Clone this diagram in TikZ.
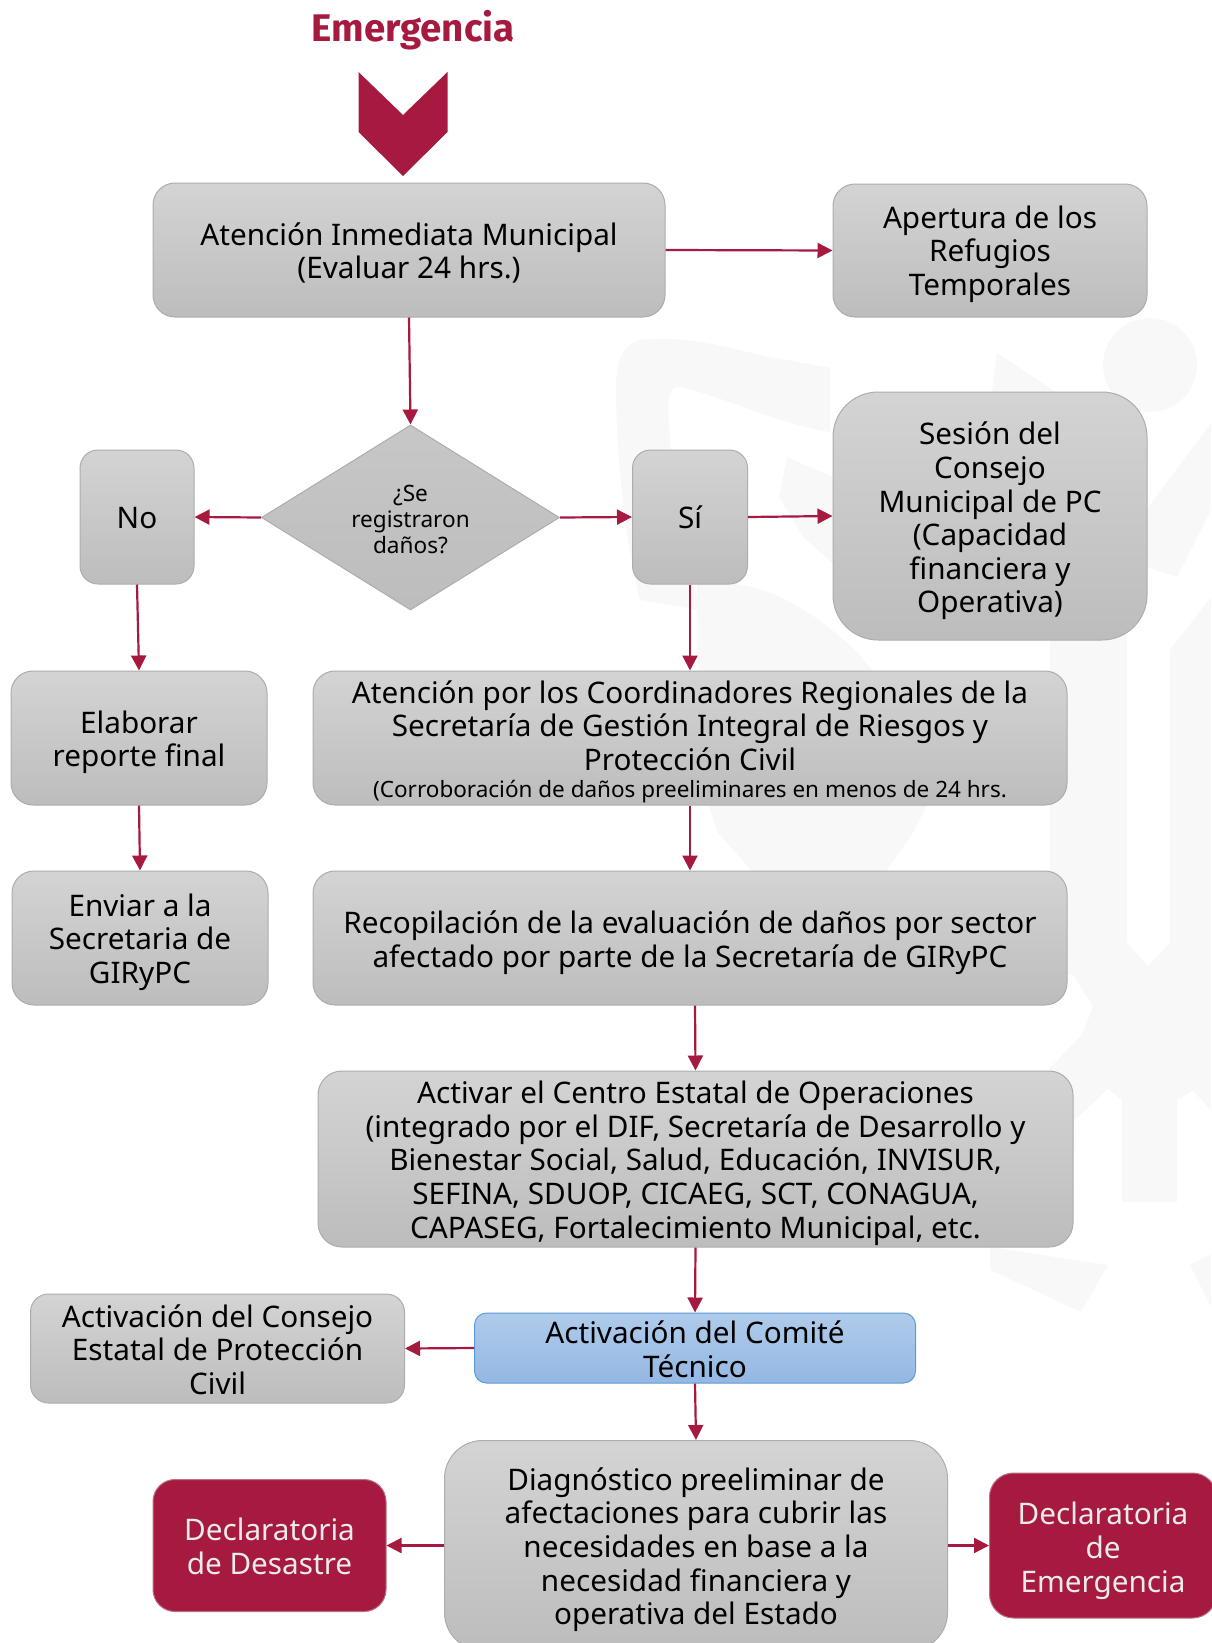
\documentclass[tikz,border=0pt]{standalone}
\usepackage{fontspec}
\setmainfont{Noto Sans}
\newfontfamily\titlef{Fira Sans Bold}
\newcommand{\dn}[1]{\rule{0pt}{\dimexpr 23pt+#1pt+#1pt\relax}}
\usetikzlibrary{shapes.geometric,arrows.meta}
\definecolor{guinda}{HTML}{A61A3F}
\definecolor{wm}{HTML}{F8F8F8}
\definecolor{bltop}{HTML}{AFCBEA}
\definecolor{blbot}{HTML}{94B8E3}
\definecolor{bledge}{HTML}{5B9BD5}
\tikzset{
  gbox/.style={rectangle,draw=black!32,line width=1pt,top color=black!17,bottom color=black!26,align=center,inner sep=0pt,text=black,font=\fontsize{29.7}{33.6}\selectfont},
  rbox/.style={rectangle,draw=guinda!80!black!60,line width=1pt,fill=guinda,align=center,inner sep=0pt,text=white!92!black,font=\fontsize{29.7}{33.6}\selectfont},
  bbox/.style={rectangle,draw=bledge,line width=1pt,top color=bltop,bottom color=blbot,align=center,inner sep=0pt,font=\fontsize{29.7}{33.6}\selectfont},
  flow/.style={draw=guinda,line width=2.2pt,-{Triangle[length=15pt,width=15pt]}}
}
\begin{document}
\begin{tikzpicture}[x=1pt,y=-1pt]
\useasboundingbox (0,0) rectangle (1211,1643);
\begin{scope}[wm]
\fill (1150,365) circle (47);
\fill (616,400) .. controls (615,365) and (620,345) .. (640,340) .. controls (680,335) and (720,345) .. (760,355) -- (830,368) -- (830,432) .. controls (780,425) and (720,395) .. (680,387) .. controls (665,385) and (668,410) .. (670,440) .. controls (675,500) and (685,560) .. (700,610) -- (640,600) .. controls (625,540) and (618,470) .. (616,400) -- cycle;
\fill (697,585) .. controls (730,580) and (780,580) .. (855,650) -- (950,760) -- (913,833) -- (880,880) -- (760,880) -- (718,833) -- (700,780) -- cycle;
\fill (787,457) -- (840,480) -- (840,570) -- (803,537) -- (779,497) -- cycle;
\fill (997,353) -- (1056,392) -- (992,392) -- cycle;
\fill (1211,423) -- (1146,510) -- (1146,567) -- (1177,577) -- (1211,510) -- cycle;
\fill (1050,630) -- (1127,630) -- (1127,943) -- (1148,966) -- (1170,943) -- (1170,650) -- (1211,597) -- (1211,1110) -- (1193,1091) -- (1177,1100) -- (1177,1202) -- (1122,1202) -- (1122,1100) -- (1108,1089) -- (1073,1122) -- (1050,1135) -- (1050,1068) -- (1083,1033) -- (1093,1006) -- (1073,975) -- (1050,975) -- cycle;
\fill (990,1247) -- (1108,1265) -- (1081,1312) -- (990,1270) -- cycle;
\fill (1190,1265) -- (1211,1254) -- (1211,1307) -- cycle;
\end{scope}
\node[font=\titlef\fontsize{38.5}{40}\selectfont,text=guinda] (title) at (413,30) {Emergencia};
\fill[guinda] (358.5,72) -- (403,115) -- (447.5,72) -- (447.5,132) -- (403,176) -- (358.5,132) -- cycle;
\node[gbox,rounded corners=22pt,minimum width=512pt,minimum height=134pt] (main) at (409,250) {\dn{3}Atención Inmediata Municipal\\(Evaluar 24 hrs.)};
\node[gbox,rounded corners=22pt,minimum width=314pt,minimum height=133pt] (ref) at (990,250.5) {\dn{3.5}Apertura de los\\Refugios\\Temporales};
\node[diamond,aspect=1.6,draw=black!32,line width=1pt,top color=black!22,bottom color=black!26,align=center,inner sep=0pt,minimum width=298pt,minimum height=185pt,font=\fontsize{22.6}{25.7}\selectfont] (dia) at (410.5,517.5) {\rule{0pt}{20pt}¿Se\\registraron\\daños?};
\node[gbox,rounded corners=18pt,minimum width=114pt,minimum height=134pt] (no) at (137,517) {\dn{0}No};
\node[gbox,rounded corners=18pt,minimum width=115pt,minimum height=134pt] (si) at (690,517) {\dn{0}Sí};
\node[gbox,rounded corners=45pt,minimum width=314pt,minimum height=248pt] (ses) at (990,516) {\dn{5}Sesión del\\Consejo\\Municipal de PC\\(Capacidad\\financiera y\\Operativa)};
\node[gbox,rounded corners=22pt,minimum width=256pt,minimum height=134pt] (ela) at (139,738) {\dn{4}Elaborar\\reporte final};
\node[gbox,rounded corners=22pt,minimum width=754pt,minimum height=134pt] (coord) at (690,738) {\dn{1}Atención por los Coordinadores Regionales de la\\Secretaría de Gestión Integral de Riesgos y\\Protección Civil\\[-6pt]{\fontsize{22.5}{25}\selectfont\smash{(Corroboración de daños preeliminares en menos de 24 hrs.}}};
\node[gbox,rounded corners=22pt,minimum width=256pt,minimum height=134pt] (env) at (140,938) {\dn{4}Enviar a la\\Secretaria de\\GIRyPC};
\node[gbox,rounded corners=22pt,minimum width=754pt,minimum height=134pt] (rec) at (690,938) {\dn{4.5}Recopilación de la evaluación de daños por sector\\afectado por parte de la Secretaría de GIRyPC};
\node[gbox,rounded corners=24pt,minimum width=755pt,minimum height=176pt] (act) at (695.5,1159) {\dn{4}Activar el Centro Estatal de Operaciones\\(integrado por el DIF, Secretaría de Desarrollo y\\Bienestar Social, Salud, Educación, INVISUR,\\SEFINA, SDUOP, CICAEG, SCT, CONAGUA,\\CAPASEG, Fortalecimiento Municipal, etc.};
\node[gbox,rounded corners=18pt,minimum width=374pt,minimum height=109pt] (est) at (217.5,1348.5) {\dn{1}Activación del Consejo\\Estatal de Protección\\Civil};
\node[bbox,rounded corners=12pt,minimum width=441pt,minimum height=70pt] (com) at (695,1348) {\dn{1}Activación del Comité\\Técnico};
\node[gbox,rounded corners=38pt,minimum width=503pt,minimum height=210pt] (dig) at (696,1545.5) {\dn{4}Diagnóstico preeliminar de\\afectaciones para cubrir las\\necesidades en base a la\\necesidad financiera y\\operativa del Estado};
\node[rbox,rounded corners=22pt,minimum width=233pt,minimum height=132pt] (des) at (269.5,1545.5) {\dn{0.5}Declaratoria\\de Desastre};
\node[rbox,rounded corners=24pt,minimum width=227pt,minimum height=145pt] (eme) at (1103,1545.5) {\dn{5}Declaratoria\\de\\Emergencia};
\draw[flow] (main.east) -- (ref.west);
\draw[flow] (main.south) -- (dia.north);
\draw[flow] (dia.west) -- (no.east);
\draw[flow] (dia.east) -- (si.west);
\draw[flow] (si.east) -- (ses.west);
\draw[flow] (si.south) -- (coord.north);
\draw[flow] (no.south) -- (ela.north);
\draw[flow] (ela.south) -- (env.north);
\draw[flow] (coord.south) -- (rec.north);
\draw[flow] ([xshift=5pt]rec.south) -- (act.north);
\draw[flow] (act.south) -- (com.north);
\draw[flow] (com.west) -- (est.east);
\draw[flow] (com.south) -- (dig.north);
\draw[flow] (dig.west) -- (des.east);
\draw[flow] (dig.east) -- (eme.west);
\end{tikzpicture}
\end{document}
